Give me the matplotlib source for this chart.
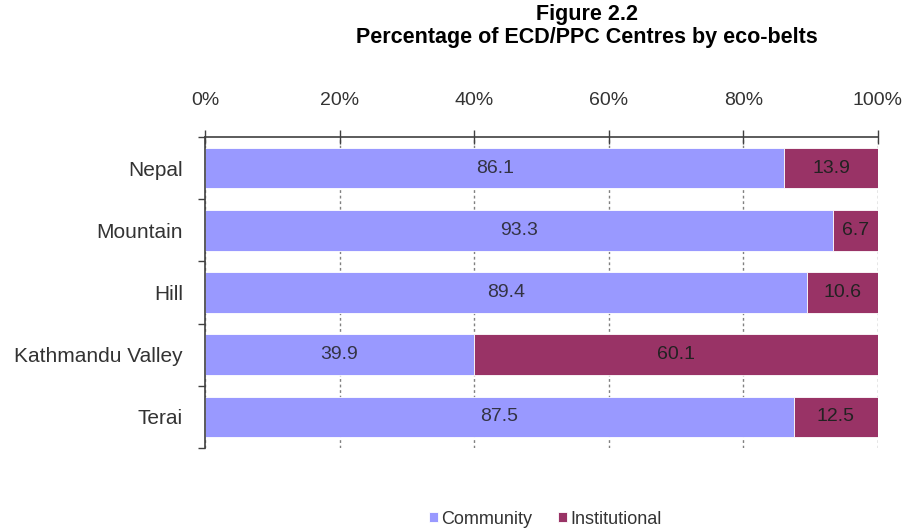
import matplotlib
matplotlib.use("Agg")
import matplotlib.pyplot as plt
import numpy as np

belts = ["Nepal", "Mountain", "Hill", "Kathmandu Valley", "Terai"]
community = [86.1, 93.3, 89.4, 39.9, 87.5]
institutional = [13.9, 6.7, 10.6, 60.1, 12.5]
pct_ticks = [0, 20, 40, 60, 80, 100]

plt.rcParams['font.family'] = ['Liberation Sans', 'DejaVu Sans']

fig = plt.figure(figsize=(9.04, 5.28), dpi=100)
ax = fig.add_axes([0.2268, 0.1515, 0.7444, 0.589])

y = np.arange(len(belts))
h = 0.65
b1 = ax.barh(y, community, height=h, color="#9999FF", edgecolor="white", linewidth=0.6, zorder=2, label="Community")
b2 = ax.barh(y, institutional, left=community, height=h, color="#993366", edgecolor="white", linewidth=0.6, zorder=2, label="Institutional")

for i in range(len(belts)):
    ax.text(community[i] / 2, y[i], f"{community[i]:.1f}", ha="center", va="center",
            fontsize=14, color="#333344", zorder=3)
    ax.text(community[i] + institutional[i] / 2, y[i], f"{institutional[i]:.1f}", ha="center", va="center",
            fontsize=14, color="#222222", zorder=3)

ax.set_xlim(0, 100)
ax.set_ylim(len(belts) - 0.5, -0.5)
ax.set_xticks(pct_ticks)
ax.set_xticklabels([f"{t}%" for t in pct_ticks])
ax.xaxis.tick_top()
ax.tick_params(axis="x", direction="inout", length=10, width=1, color="#404040",
               pad=15, labelsize=14, labelcolor="#333333")
ax.set_yticks(y)
ax.set_yticklabels(belts)
ax.set_yticks(np.arange(len(belts) + 1) - 0.5, minor=True)
ax.tick_params(axis="y", which="major", length=0, pad=16, labelsize=15, labelcolor="#333333")
ax.tick_params(axis="y", which="minor", length=5, width=1, color="#404040")

ax.grid(axis="x", linestyle=(0, (2, 2)), color="#808080", linewidth=1, zorder=0)
ax.set_axisbelow(True)
for s in ["right", "bottom"]:
    ax.spines[s].set_visible(False)
for s in ["top", "left"]:
    ax.spines[s].set_color("#404040")
    ax.spines[s].set_linewidth(1.2)

fig.text(0.649, 0.993, "Figure 2.2", ha="center", va="top", fontsize=15.5, fontweight="bold")
fig.text(0.649, 0.948, "Percentage of ECD/PPC Centres by eco-belts", ha="center", va="top",
         fontsize=15.5, fontweight="bold")

fig.legend(handles=[b1, b2], loc="lower center", bbox_to_anchor=(0.603, -0.03), ncol=2, frameon=False,
           fontsize=13, handlelength=0.5, handleheight=0.5, handletextpad=0.2, columnspacing=1.4,
           labelcolor="#333333")

fig.savefig("out.png", dpi=100)
